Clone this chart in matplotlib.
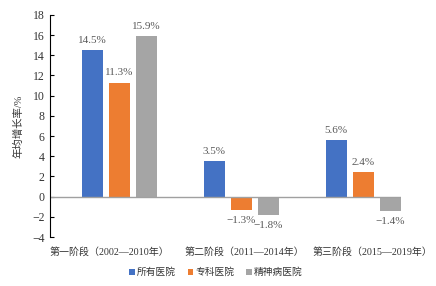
import numpy as np
import matplotlib
matplotlib.use("Agg")
from matplotlib import pyplot as plt
from matplotlib.transforms import ScaledTranslation

plt.rcParams['font.family'] = ['Liberation Serif', 'Noto Sans CJK SC']
plt.rcParams['axes.unicode_minus'] = True

stages = ["第一阶段（2002—2010年）", "第二阶段（2011—2014年）", "第三阶段（2015—2019年）"]
series_names = ["所有医院", "专科医院", "精神病医院"]
all_hosp = [14.5, 3.5, 5.6]
special_hosp = [11.3, -1.3, 2.4]
mental_hosp = [15.9, -1.8, -1.4]
colors = ["#4472C4", "#ED7D31", "#A5A5A5"]

fig = plt.figure(figsize=(4.36, 2.86), dpi=100)
ax = fig.add_axes([0.115, 0.171, 0.805, 0.777])

x = np.arange(len(stages))
width = 0.172
step = 0.222
for i, (vals, name, c) in enumerate(zip([all_hosp, special_hosp, mental_hosp], series_names, colors)):
    pos = x + (i - 1) * step
    ax.bar(pos, vals, width, color=c, label=name)
    for p, v in zip(pos, vals):
        txt = f"{v:.1f}%".replace("-", "\u2212")
        if v >= 0:
            ax.text(p, v + 0.5, txt, ha='center', va='bottom', fontsize=8, color='#595959')
        else:
            ax.text(p, v - 0.6, txt, ha='center', va='top', fontsize=8, color='#595959')

ax.axhline(0, color='#A0A0A0', linewidth=1.0)
ax.set_ylim(-4, 18)
ax.set_yticks(range(-4, 19, 2))
ax.set_xlim(-0.566, 2.31)
ax.set_xticks(x)
ax.set_xticklabels(stages, fontsize=7.2, color='#333333')
ax.tick_params(axis='x', length=0, pad=7)
ax.tick_params(axis='y', direction='in', length=3, labelsize=8.5, pad=4, labelcolor='#333333')
# Excel-style label placement is a bit offset from the bar groups
for lbl, dx in zip(ax.get_xticklabels(), [-10, 3, 9]):
    lbl.set_transform(lbl.get_transform() + ScaledTranslation(dx / 100, 0, fig.dpi_scale_trans))
for s in ['top', 'right', 'bottom']:
    ax.spines[s].set_visible(False)
ax.spines['left'].set_color('black')
ax.spines['left'].set_linewidth(0.8)
ax.set_ylabel("年均增长率/%", fontsize=7.5, labelpad=6, color='#333333')

fig.legend(loc='center', bbox_to_anchor=(0.495, 0.048), ncol=3, frameon=False,
           fontsize=7, handlelength=0.6, handleheight=0.6, handletextpad=0.2,
           columnspacing=1.2, labelcolor='#333333')

fig.savefig("out.png", dpi=100)
